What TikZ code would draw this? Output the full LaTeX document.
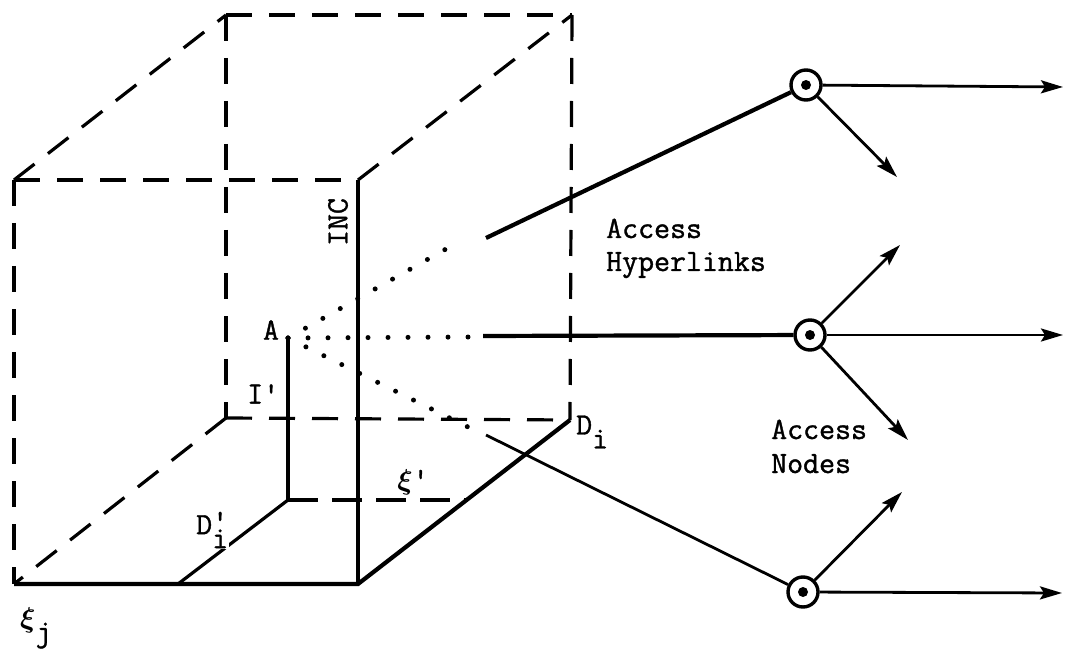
\documentclass[tikz,border=0pt]{standalone}
\usepackage{amsmath}
\usepackage{fontspec}
\newfontfamily\twr{Latin Modern Mono}[FakeBold=1.2]
\usetikzlibrary{arrows.meta}
\newcommand{\sq}{\textquotesingle}
\newcommand{\bxi}{\scalebox{1.15}{$\boldsymbol{\xi}$}}
\begin{document}
\begin{tikzpicture}[x=1pt,y=-1pt,
  dsh/.style={line width=3.2pt, dash pattern=on 26pt off 17pt},
  thick4/.style={line width=4.2pt},
  mid3/.style={line width=3.2pt},
  thin26/.style={line width=2.8pt},
  dotl/.style={line width=5pt, line cap=round, dash pattern=on 0pt off 20pt},
  arr/.style={line width=2.8pt, -{Stealth[length=22pt,width=13pt,inset=4pt]}},
  anode/.style={circle, draw, line width=3.4pt, fill=white, minimum size=30pt, inner sep=0pt},
  lbl/.style={font=\twr\fontsize{31}{34}\selectfont, inner sep=0pt}]
\useasboundingbox (0,0) rectangle (1065,660);
% cube corners
\coordinate (FTL) at (14,180);
\coordinate (FTR) at (358,180);
\coordinate (FBL) at (14,584);
\coordinate (FBR) at (358,584);
\coordinate (BTL) at (226,15);
\coordinate (BTR) at (572,15);
\coordinate (BBL) at (226,418);
\coordinate (BBR) at (570,420);
% inner point
\coordinate (A) at (288,338);
\coordinate (P) at (288,500);
\coordinate (Q) at (466,500);
\coordinate (R) at (178,584);
% dotted ends / solid starts
\coordinate (U) at (462,240);
\coordinate (M) at (470,337);
\coordinate (L) at (470,428);
\coordinate (U2) at (486,238);
\coordinate (M2) at (483,336);
\coordinate (L2) at (486,435);
% arrow ends
\coordinate (e1) at (1063,87);
\coordinate (e2) at (1063,335);
\coordinate (e3) at (1062,593);
\coordinate (d1) at (897,177);
\coordinate (u2) at (900,245);
\coordinate (d2) at (908,440);
\coordinate (u3) at (902,492);

% dashed cube edges
\draw[dsh] (FTL) -- (FTR);
\draw[dsh] (FTL) -- (FBL);
\draw[dsh] (FTL) -- (BTL);
\draw[dsh] (BTL) -- (BTR);
\draw[dsh] (BTL) -- (BBL);
\draw[dsh] (BTR) -- (BBR);
\draw[dsh] (FTR) -- (BTR);
\draw[dsh] (BBL) -- (BBR);
\draw[dsh] (BBL) -- (FBL);
% solid cube edges
\draw[mid3] (FTR) -- (FBR);
\draw[thick4] (FBL) -- (FBR) -- (BBR);
% inner construction
\draw[mid3] (A) -- (P);
\draw[mid3] (P) -- (R);
\draw[mid3, dash pattern=on 30pt off 14pt] (P) -- (Q);

% dotted rays
\draw[dotl] (A) -- (U);
\draw[dotl] (A) -- (M);
\draw[dotl] (A) -- (L);

% access hyperlinks and nodes
\node[anode] (n1) at (806,85) {};
\node[anode] (n2) at (810,335) {};
\node[anode] (n3) at (803,592) {};
\draw[thick4] (U2) -- (n1);
\draw[thick4] (M2) -- (n2);
\draw[thin26] (L2) -- (n3);
\foreach \n in {n1,n2,n3} \fill (\n.center) circle (5pt);

\draw[arr] (n1) -- (e1);
\draw[arr] (n1) -- (d1);
\draw[arr] (n2) -- (e2);
\draw[arr] (n2) -- (u2);
\draw[arr] (n2) -- (d2);
\draw[arr] (n3) -- (e3);
\draw[arr] (n3) -- (u3);

% labels
\node[lbl] (lA) at (271,330) {A};
\node[lbl, anchor=west] (lI) at (247,394) {I\sq};
\node[lbl, rotate=90] (lINC) at (338,222) {INC};
\node[lbl, anchor=west] (lDi) at (576,432) {D\raisebox{-0.45em}{i}};
\node[lbl, anchor=west, fill=white, inner sep=1pt] (lDpi) at (195,530) {D\makebox[0pt][l]{\raisebox{0.1em}{\sq}}\raisebox{-0.45em}{i}};
\node[lbl] (lxi) at (413,482) {\bxi\sq};
\node[lbl, anchor=west] (lxij) at (20,628) {\bxi\raisebox{-0.45em}{j}};
\node[lbl, anchor=base west] (h1) at (606,238) {Access};
\node[lbl, anchor=base west] (h2) at (606,271) {Hyperlinks};
\node[lbl, anchor=base west] (k1) at (771,439) {Access};
\node[lbl, anchor=base west] (k2) at (771,473) {Nodes};
\end{tikzpicture}
\end{document}
